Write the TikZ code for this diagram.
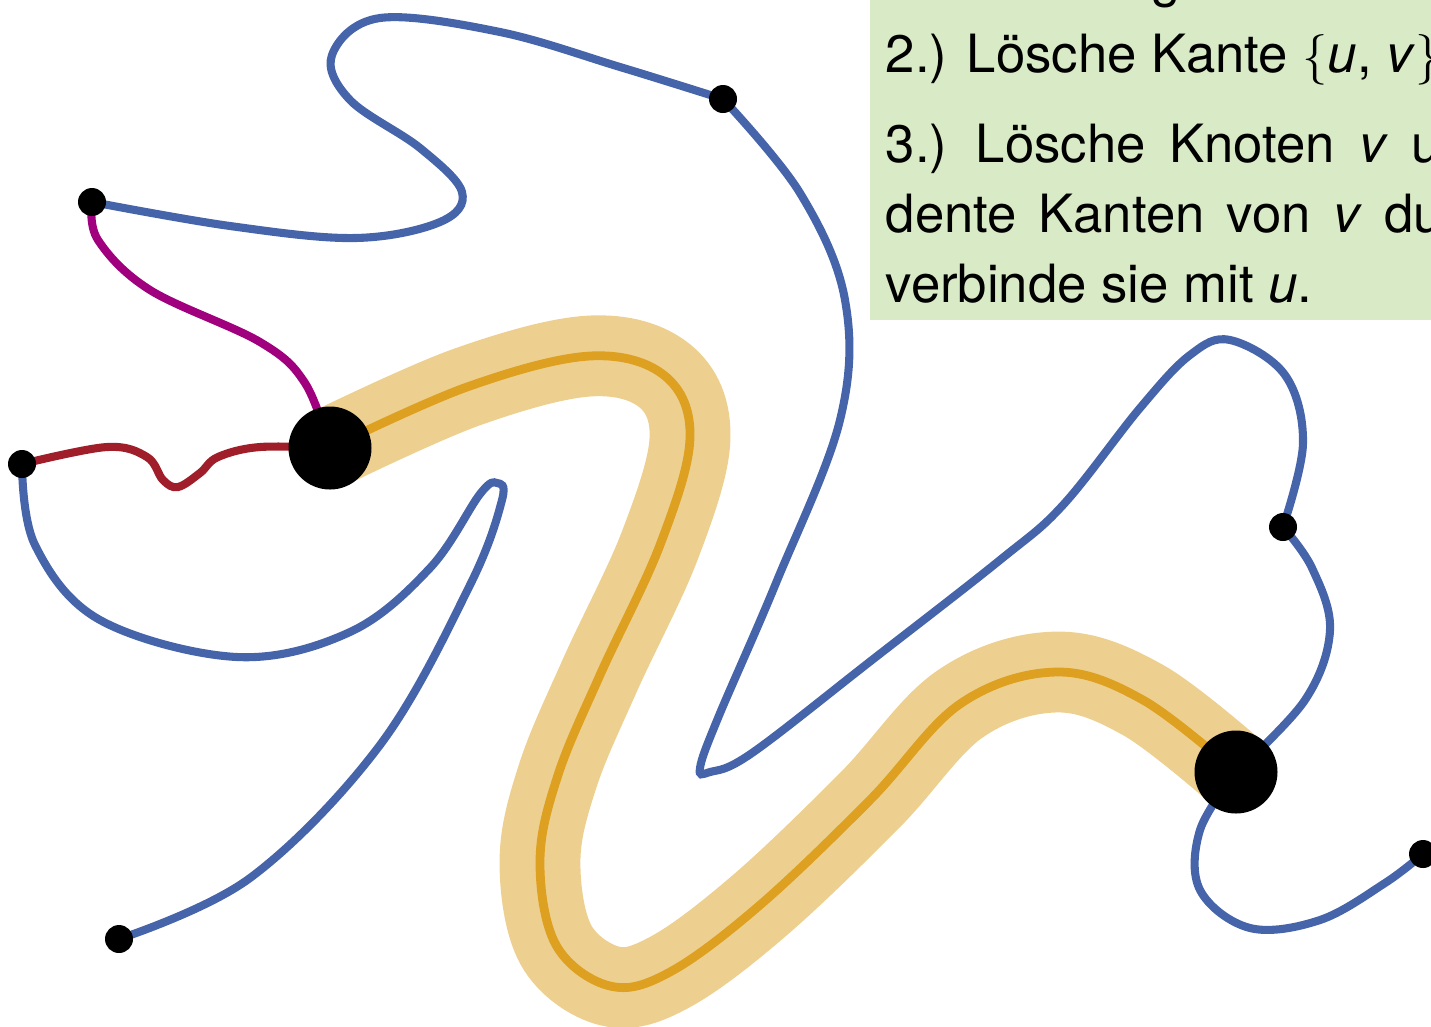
\documentclass[tikz,border=0pt]{standalone}
\usepackage{fontspec}
\newfontfamily\boxfont{TeX Gyre Heros}
\usepackage{tikz}

\definecolor{edgeblue}{RGB}{70,100,170}
\definecolor{edgered}{RGB}{160,30,42}
\definecolor{edgemag}{RGB}{160,0,125}
\definecolor{bandlight}{RGB}{237,208,143}
\definecolor{banddark}{RGB}{221,160,32}
\definecolor{boxgreen}{RGB}{217,234,198}

\begin{document}
\begin{tikzpicture}[x=0.1mm,y=-0.1mm,
  vtx/.style={circle,fill=black,inner sep=0pt,minimum size=2.8mm},
  bigvtx/.style={circle,fill=black,inner sep=0pt,minimum size=8.3mm},
  blueedge/.style={draw=edgeblue,line width=2.3pt},
  uvedge/.style={draw=banddark,line width=2.5pt,preaction={draw=bandlight,line width=23pt}},
  textline/.style={anchor=base west,inner sep=0pt,font=\boxfont\fontsize{15}{20}\selectfont}]
  \useasboundingbox (0,0) rectangle (1431,1026);
  \clip (0,0) rectangle (1431,1026);
  % vertices
  \coordinate (u) at (330,448);
  \coordinate (v) at (1236,772);
  \coordinate (a) at (92,202);
  \coordinate (b) at (723,99);
  \coordinate (c) at (22,464);
  \coordinate (d) at (1283,527);
  \coordinate (e) at (119,939);
  \coordinate (f) at (1423,854);
  % text box
  \fill[boxgreen] (870,-60) rectangle (1520,320);
  \node[textline] (line1) at (885,-4) {eine Kante gleichverteilt zuf\"allig aus.};
  \node[textline] (line2) at (885,72) {2.) L\"osche Kante $\big\{$\textit{u}, \textit{v}$\big\}$ aus dem Graphen.};
  \node[textline] (line3) at (885,162) {\spaceskip=0.45em 3.) L\"osche Knoten \textit{v} und ersetze alle inzi-};
  \node[textline] (line4) at (885,232) {\spaceskip=0.42em dente Kanten von \textit{v} durch neue Kanten,};
  \node[textline] (line5) at (885,302) {verbinde sie mit \textit{u}.};
  % contracted edge {u,v}
  \draw[uvedge] plot[smooth,tension=0.6] coordinates {(u) (467,387) (590,356) (665,376) (690,438)
    (660,545) (600,675) (558,775) (540,860) (556,945) (610,986) (670,972) (760,905)
    (870,800) (960,704) (1056,672) (1143,700) (v)};
  % other edges
  \draw[blueedge] plot[smooth,tension=0.6] coordinates {(a) (230,226) (355,238) (440,222) (462,192)
    (420,148) (350,100) (332,55) (380,18) (500,32) (620,67) (b)};
  \draw[blueedge] plot[smooth,tension=0.6] coordinates {(b) (800,193) (845,300) (840,420)
    (776,583) (718,718) (700,768) (710,772) (752,753) (872,660) (1000,560)
    (1063,505) (1140,408) (1190,355) (1230,340) (1285,375) (1303,443) (d)};
  \draw[blueedge] plot[smooth,tension=0.6] coordinates {(d) (1312,568) (1330,630) (1305,700) (v)};
  \draw[blueedge] plot[smooth,tension=0.6] coordinates {(v) (1200,830) (1200,890) (1250,928)
    (1320,920) (1385,883) (f)};
  \draw[blueedge] plot[smooth,tension=0.6] coordinates {(c) (35,545) (100,620) (237,657) (350,632)
    (430,568) (480,494) (497,483) (502,500) (470,585) (380,745) (250,878) (e)};
  \draw[edgered,line width=2.3pt] plot[smooth,tension=0.6] coordinates {(c) (107,447) (147,457)
    (163,480) (178,487) (200,473) (218,457) (260,447) (u)};
  \draw[edgemag,line width=2.3pt] plot[smooth,tension=0.6] coordinates {(a) (98,240) (150,290)
    (260,342) (305,383) (u)};
  % vertex dots
  \node[bigvtx] (udot) at (u) {};
  \node[bigvtx] (vdot) at (v) {};
  \foreach \p in {a,b,c,d,e,f} \node[vtx] (\p dot) at (\p) {};
\end{tikzpicture}
\end{document}
